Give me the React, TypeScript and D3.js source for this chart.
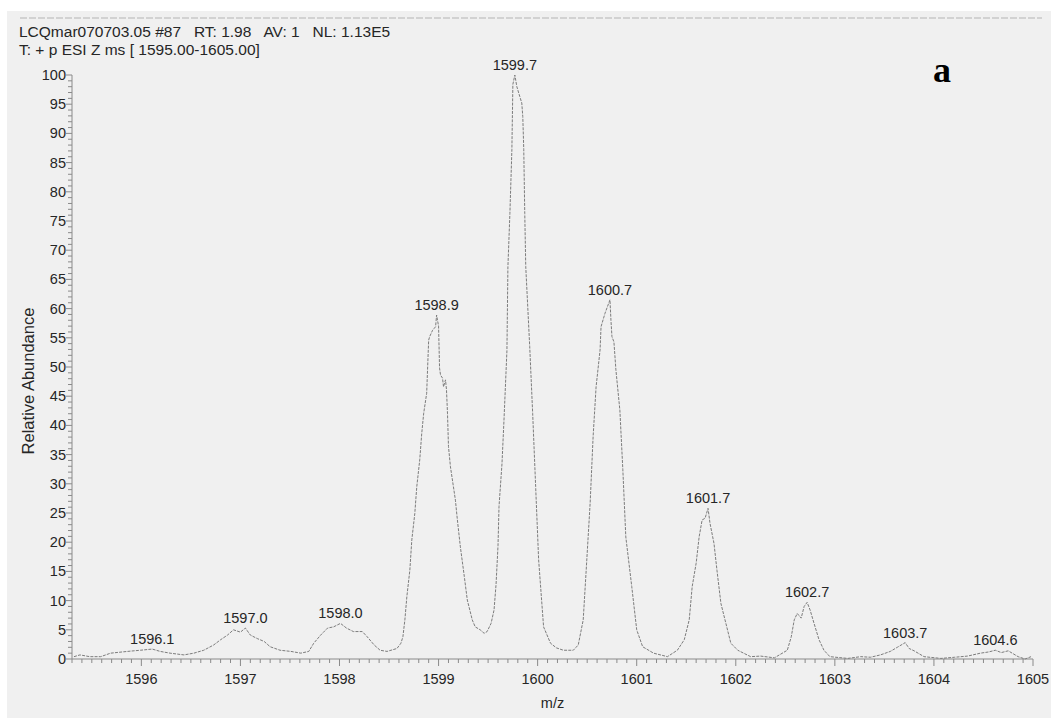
import React from "react";
import * as d3 from "d3";

// Profile spectrum: m/z positions and relative abundance (%)
const mzValues = [
  1595.32, 1595.38, 1595.48, 1595.59, 1595.69, 1595.86, 1595.99, 1596.11, 1596.19, 1596.29,
  1596.43, 1596.53, 1596.63, 1596.73, 1596.8, 1596.87, 1596.93, 1597.0, 1597.05, 1597.1,
  1597.17, 1597.24, 1597.3, 1597.4, 1597.51, 1597.61, 1597.69, 1597.74, 1597.81, 1597.88,
  1597.94, 1598.01, 1598.07, 1598.14, 1598.23, 1598.28, 1598.35, 1598.41, 1598.48, 1598.58,
  1598.62, 1598.64, 1598.66, 1598.68, 1598.71, 1598.73, 1598.76, 1598.78, 1598.81, 1598.83,
  1598.85, 1598.88, 1598.89, 1598.9, 1598.91, 1598.94, 1598.97, 1598.98, 1599.0, 1599.01,
  1599.02, 1599.04, 1599.05, 1599.07, 1599.08, 1599.09, 1599.1, 1599.12, 1599.15, 1599.17,
  1599.19, 1599.22, 1599.26, 1599.29, 1599.34, 1599.37, 1599.42, 1599.46, 1599.49, 1599.53,
  1599.56, 1599.58, 1599.6, 1599.61, 1599.64, 1599.66, 1599.69, 1599.7, 1599.72, 1599.74,
  1599.75, 1599.77, 1599.79, 1599.82, 1599.84, 1599.85, 1599.86, 1599.87, 1599.88, 1599.92,
  1599.95, 1599.98, 1600.01, 1600.06, 1600.13, 1600.19, 1600.26, 1600.36, 1600.41, 1600.46,
  1600.49, 1600.53, 1600.56, 1600.59, 1600.63, 1600.64, 1600.68, 1600.73, 1600.74, 1600.75,
  1600.77, 1600.79, 1600.83, 1600.86, 1600.89, 1600.95, 1601.0, 1601.06, 1601.17, 1601.31,
  1601.41, 1601.48, 1601.53, 1601.56, 1601.6, 1601.63, 1601.66, 1601.69, 1601.72, 1601.74,
  1601.78, 1601.81, 1601.85, 1601.9, 1601.95, 1602.02, 1602.15, 1602.25, 1602.39, 1602.52,
  1602.56, 1602.59, 1602.62, 1602.66, 1602.69, 1602.72, 1602.75, 1602.79, 1602.84, 1602.89,
  1602.95, 1603.13, 1603.26, 1603.36, 1603.46, 1603.56, 1603.63, 1603.71, 1603.75, 1603.8,
  1603.9, 1604.07, 1604.21, 1604.34, 1604.47, 1604.55, 1604.62, 1604.68, 1604.75, 1604.85,
  1604.92, 1604.98,
];

const abundance = [
  0.4, 0.7, 0.4, 0.4, 1.0, 1.3, 1.5, 1.7, 1.3, 1.0,
  0.7, 1.0, 1.5, 2.4, 3.3, 4.1, 5.0, 4.6, 5.3, 4.1,
  3.5, 3.0, 2.1, 1.5, 1.3, 1.0, 1.3, 2.7, 4.1, 5.3,
  5.5, 6.1, 5.3, 4.7, 4.7, 3.8, 2.4, 1.5, 1.3, 1.8,
  2.7, 3.8, 6.7, 10.7, 15.2, 20.4, 24.9, 29.5, 34.1, 38.6,
  42.1, 45.5, 50.1, 54.6, 55.2, 56.3, 56.9, 58.9, 57.0, 49.8,
  48.6, 48.1, 46.6, 47.8, 46.1, 42.1, 36.4, 32.9, 29.5, 27.2,
  23.8, 19.2, 14.1, 10.1, 6.7, 5.5, 5.0, 4.4, 4.7, 6.1,
  8.4, 12.7, 19.4, 26.1, 33.4, 40.8, 52.8, 67.2, 76.3, 87.2,
  98.4, 100, 98.0, 96.3, 95.2, 92.9, 87.2, 76.3, 67.2, 53.5,
  42.0, 29.5, 17.0, 5.5, 2.7, 1.9, 1.5, 1.5, 2.4, 6.7,
  15.2, 26.7, 38.1, 46.6, 52.9, 56.9, 59.2, 61.5, 58.0, 55.2,
  54.3, 49.5, 42.6, 32.4, 20.9, 12.4, 5.0, 2.1, 1.0, 0.4,
  1.5, 3.3, 6.7, 12.4, 16.4, 20.9, 23.8, 24.1, 25.8, 23.2,
  19.8, 15.2, 9.5, 6.1, 2.7, 1.5, 0.4, 0.5, 0.2, 1.5,
  3.8, 6.7, 7.8, 7.0, 9.0, 9.7, 8.4, 6.1, 3.3, 1.5,
  0.4, 0.1, 0.4, 0.3, 0.7, 1.3, 2.0, 2.8, 1.8, 1.4,
  0.4, 0.1, 0.3, 0.5, 1.0, 1.2, 1.5, 1.1, 1.4, 0.4,
  0.0, 0.4,
];

// Labelled centroid positions (apex of each isotope peak)
const peakApexMz = [
  1596.11, 1597.05, 1598.01, 1598.98, 1599.77, 1600.73, 1601.72, 1602.72, 1603.71, 1604.62,
];

const xTickValues = [1596, 1597, 1598, 1599, 1600, 1601, 1602, 1603, 1604, 1605];
const yTickValues = [0, 5, 10, 15, 20, 25, 30, 35, 40, 45, 50, 55, 60, 65, 70, 75, 80, 85, 90, 95, 100];

const headerLines = [
  "LCQmar070703.05 #87   RT: 1.98   AV: 1   NL: 1.13E5",
  "T: + p ESI Z ms [ 1595.00-1605.00]",
];
const xAxisTitle = "m/z";
const yAxisTitle = "Relative Abundance";
const panelTag = "a";

const W = 1051;
const H = 718;
const FONT = "'Liberation Sans', Arial, sans-serif";

export default function App() {
  const x = d3.scaleLinear().domain([1595.3, 1605]).range([72, 1033]);
  const y = d3.scaleLinear().domain([0, 100]).range([659, 75]);

  const points: [number, number][] = mzValues.map((m, i) => [m, abundance[i]]);
  const line = d3
    .line<[number, number]>()
    .x((d) => x(d[0]))
    .y((d) => y(d[1]));

  const xMinor = d3.range(15953, 16051).map((v) => v / 10);
  const yMinor = d3.range(0, 101);

  const peakLabels = peakApexMz.map((m) => {
    const idx = mzValues.indexOf(m);
    const v = abundance[idx];
    const text = (Math.floor(m * 10 + 1e-6) / 10).toFixed(1);
    return { m, v, text };
  });

  const axisColor = "#8a8a8a";
  const textColor = "#262626";

  return (
    <svg
      width={W}
      height={H}
      style={{ position: "absolute", left: 0, top: 0, background: "#ffffff" }}
    >
      <rect x={7} y={11} width={W - 7} height={H - 11} fill="#f0f0f0" />
      <line x1={20} x2={1042} y1={18} y2={18} stroke="#b4b4b4" strokeWidth={1} strokeDasharray="7 2" />

      {headerLines.map((t, i) => (
        <text
          key={i}
          x={19}
          y={37 + i * 18}
          fontFamily={FONT}
          fontSize={15.5}
          fill={textColor}
          style={{ whiteSpace: "pre" }}
        >
          {t}
        </text>
      ))}

      <text
        x={942}
        y={82}
        fontFamily="'Liberation Serif', 'Times New Roman', serif"
        fontWeight="bold"
        fontSize={36}
        textAnchor="middle"
        fill="#000"
      >
        {panelTag}
      </text>

      {/* y axis */}
      <line x1={72} x2={72} y1={y(100)} y2={y(0)} stroke={axisColor} strokeWidth={1} />
      {yMinor.map((v) => (
        <line
          key={"ym" + v}
          x1={72}
          x2={v % 5 === 0 ? 66 : 68}
          y1={y(v)}
          y2={y(v)}
          stroke={axisColor}
          strokeWidth={1}
        />
      ))}
      {yTickValues.map((v) => (
        <text
          key={"yt" + v}
          x={66}
          y={y(v) + 5}
          textAnchor="end"
          fontFamily={FONT}
          fontSize={14.5}
          fill={textColor}
        >
          {v}
        </text>
      ))}
      <text
        transform={`translate(34, 381) rotate(-90)`}
        textAnchor="middle"
        fontFamily={FONT}
        fontSize={16.5}
        fill={textColor}
      >
        {yAxisTitle}
      </text>

      {/* x axis */}
      <line x1={x(1595.3)} x2={x(1605)} y1={y(0)} y2={y(0)} stroke={axisColor} strokeWidth={1} />
      {xMinor.map((v) => {
        const major = Math.abs(v - Math.round(v)) < 1e-6;
        return (
          <line
            key={"xm" + v}
            x1={x(v)}
            x2={x(v)}
            y1={y(0)}
            y2={y(0) + (major ? 7 : 4)}
            stroke={axisColor}
            strokeWidth={1}
          />
        );
      })}
      {xTickValues.map((v) => (
        <text
          key={"xt" + v}
          x={x(v)}
          y={684}
          textAnchor="middle"
          fontFamily={FONT}
          fontSize={14.5}
          fill={textColor}
        >
          {v}
        </text>
      ))}
      <text
        x={(x(1595.3) + x(1605)) / 2}
        y={708}
        textAnchor="middle"
        fontFamily={FONT}
        fontSize={14.5}
        fill={textColor}
      >
        {xAxisTitle}
      </text>

      {/* spectrum trace */}
      <path
        d={line(points) || ""}
        fill="none"
        stroke="#7c7c7c"
        strokeWidth={1}
        strokeDasharray="3 1.2"
      />

      {peakLabels.map((p) => (
        <text
          key={"pk" + p.m}
          x={x(p.m)}
          y={y(p.v) - 5}
          textAnchor="middle"
          fontFamily={FONT}
          fontSize={14.5}
          fill={textColor}
        >
          {p.text}
        </text>
      ))}
    </svg>
  );
}
